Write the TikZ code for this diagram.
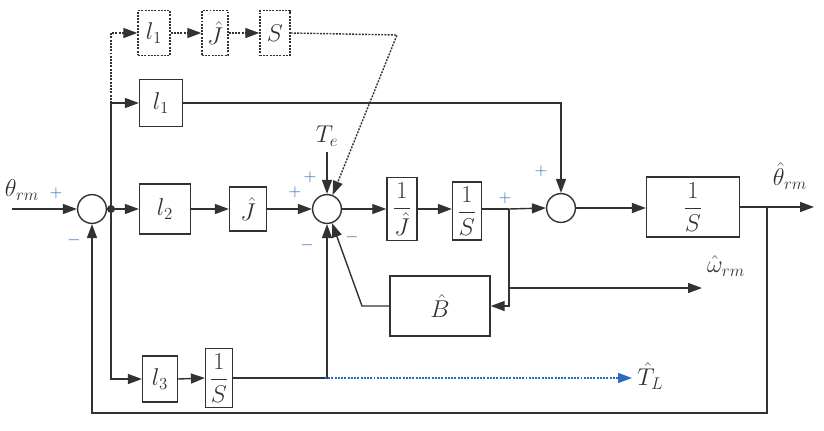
\documentclass[tikz,border=0pt]{standalone}
\usepackage{xcolor}
\usepackage{amsmath}
\usetikzlibrary{arrows.meta, calc}
\definecolor{signblue}{RGB}{45,105,190}
\definecolor{linegray}{RGB}{50,50,50}

\begin{document}
\begin{tikzpicture}[x=0.025cm, y=-0.025cm, >={Triangle[length=3.5mm, width=2.5mm]}, color=linegray, line width=1pt,
  every node/.style={font=\LARGE},
  blk/.style={draw, inner sep=1pt, font=\LARGE},
  dotblk/.style={blk, dash pattern=on 1.4pt off 0.9pt},
  sumj/.style={draw, circle, minimum size=0.72cm, inner sep=0pt},
  sgn/.style={text=signblue, font=\large},
  dotline/.style={dash pattern=on 1.4pt off 0.9pt}]
  \useasboundingbox (0,0) rectangle (824,430);
  % summing junctions
  \node[sumj] (sum1) at (92,209) {};
  \node[sumj] (sum2) at (327,209) {};
  \node[sumj] (sum3) at (561,208) {};
  % blocks
  \node[dotblk, minimum width=0.8cm, minimum height=1.12cm] (dl1) at (154,33) {$l_1$};
  \node[dotblk, minimum width=0.65cm, minimum height=1.12cm] (dJ) at (215,33) {$\hat{J}$};
  \node[dotblk, minimum width=0.75cm, minimum height=1.12cm] (dS) at (275,33) {$S$};
  \node[blk, minimum width=1.07cm, minimum height=1.17cm] (l1) at (161,103) {$l_1$};
  \node[blk, minimum width=1.27cm, minimum height=1.25cm] (l2) at (165,209) {$l_2$};
  \node[blk, minimum width=0.92cm, minimum height=1.1cm] (Jh) at (248,209) {$\hat{J}$};
  \node[blk, minimum width=0.75cm, minimum height=1.57cm] (invJ) at (402,209) {$\dfrac{1}{\hat{J}}$};
  \node[blk, minimum width=0.72cm, minimum height=1.45cm] (invS) at (467,211) {$\dfrac{1}{S}$};
  \node[blk, minimum width=2.32cm, minimum height=1.5cm] (outS) at (693,207) {$\dfrac{1}{S}$};
  \node[blk, minimum width=2.5cm, minimum height=1.5cm] (Bh) at (440,306) {$\hat{B}$};
  \node[blk, minimum width=0.87cm, minimum height=1.15cm] (l3) at (160,379) {$l_3$};
  \node[blk, minimum width=0.67cm, minimum height=1.47cm] (lowS) at (219,378) {$\dfrac{1}{S}$};
  % labels
  \node (thin) at (22,190) {$\theta_{rm}$};
  \node (thout) at (790,176) {$\hat{\theta}_{rm}$};
  \node (Te) at (327,136) {$T_e$};
  \node (om) at (726,266) {$\hat{\omega}_{rm}$};
  \node[anchor=west] (TL) at (632,376) {$\hat{T}_L$};
  % branch points
  \coordinate (in) at (12,209);
  \coordinate (j1) at (111,209);
  \coordinate (br1) at (111,103);
  \coordinate (br2) at (509,209);
  \coordinate (br5) at (509,288);
  \coordinate (omend) at (702,288);
  \coordinate (br4) at (325,378);
  \coordinate (ds) at (397,35);
  \coordinate (bk) at (362,306);
  \coordinate (br6) at (767,207);
  \coordinate (out) at (814,207);
  \coordinate (fb) at (767,413);
  \fill (j1) circle (0.1cm);
  % main path
  \draw[->] (in) -- (sum1.west);
  \draw (sum1.east) -- (j1);
  \draw[->] (j1) -- (l2.west);
  \draw[->] (l2.east) -- (Jh.west);
  \draw[->] (Jh.east) -- (sum2.west);
  \draw[->] (sum2.east) -- (invJ.west);
  \draw[->] (invJ.east) -- (invJ.east -| invS.west);
  \draw (invS.east |- br2) -- (br2);
  \draw[->] (br2) -- (sum3.west);
  \draw[->] (sum3.east) -- (sum3 -| outS.west);
  \draw[->] (outS.east) -- (out);
  % observer branches
  \draw[->] (br1) |- (l3.west);
  \draw[->] (br1) -- (l1.west);
  \draw[->] (l1.east) -| (sum3.north);
  \draw[->, dotline] (br1) |- (dl1.west);
  \draw[->, dotline] (dl1.east) -- (dJ.west);
  \draw[->, dotline] (dJ.east) -- (dS.west);
  \draw[->, dotline] (dS.east) -- (ds) -- (sum2);
  \draw[->] (Te.south) -- (sum2.north);
  \draw[->] (l3.east) -- (lowS.west);
  \draw[->] (lowS.east) -| (sum2.south);
  \draw[->, dotline, signblue] (br4) -- (br4 -| TL.west);
  \draw[->] (br2) |- (Bh.east);
  \draw[->] (br5) -- (omend);
  \draw[->] (Bh.west) -- (bk) -- (sum2);
  \draw[->] (br6) -- (fb) -| (sum1.south);
  % signs
  \node[sgn] (s1) at (56,193) {$+$};
  \node[sgn] (s2) at (74,240) {$-$};
  \node[sgn] (s3) at (295,192) {$+$};
  \node[sgn] (s4) at (310,177) {$+$};
  \node[sgn] (s5) at (307,245) {$-$};
  \node[sgn] (s6) at (352,237) {$-$};
  \node[sgn] (s7) at (505,198) {$+$};
  \node[sgn] (s8) at (541,171) {$+$};
\end{tikzpicture}
\end{document}
